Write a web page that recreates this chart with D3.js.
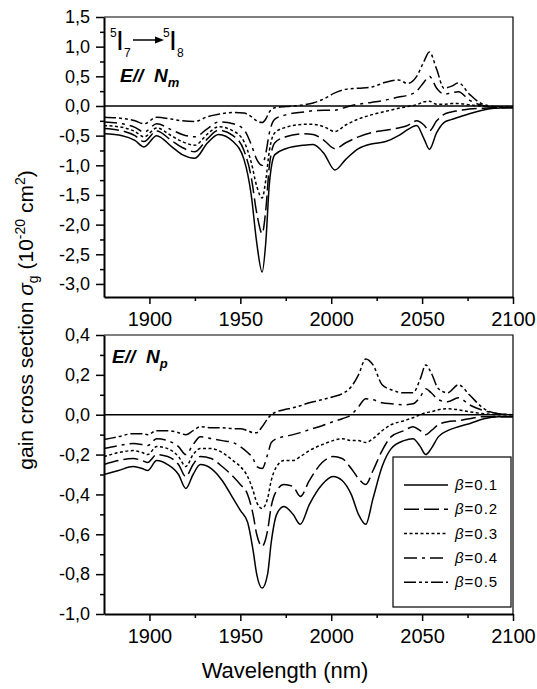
<!DOCTYPE html>
<html>
<head>
<meta charset="utf-8">
<title>Gain cross section</title>
<style>
body { margin: 0; background: #fff; }
text { font-family: Arial, "Liberation Sans", sans-serif; fill: #000; }
</style>
<script src="https://d3js.org/d3.v7.min.js"></script>
</head>
<body>
<div id="chart"></div>
<script>
// ******* Data *******
const betaValues = ["0.1", "0.2", "0.3", "0.4", "0.5"];

const xTicks = [1900, 1950, 2000, 2050, 2100];
const xMinorTicks = [1925, 1975, 2025, 2075];
const yTicksTop = [1.5, 1.0, 0.5, 0.0, -0.5, -1.0, -1.5, -2.0, -2.5, -3.0];
const yTicksBottom = [0.4, 0.2, 0.0, -0.2, -0.4, -0.6, -0.8, -1.0];

// top panel, E // Nm
const wavelengthTop = [1875, 1885, 1892, 1897, 1904, 1912, 1918, 1925, 1932, 1938,
  1946, 1952, 1956, 1959, 1962, 1964, 1966, 1969, 1975, 1985,
  1990, 1996, 2002, 2008, 2015, 2022, 2030, 2037, 2042, 2047,
  2051, 2054, 2058, 2062, 2066, 2070, 2076, 2082, 2090, 2100];
const gainTop01 = [-0.47, -0.50, -0.58, -0.69, -0.50, -0.68, -0.82, -0.88, -0.62, -0.48,
  -0.60, -0.90, -1.50, -2.30, -2.80, -2.30, -1.30, -0.82, -0.72, -0.66,
  -0.65, -0.80, -1.08, -0.90, -0.72, -0.64, -0.60, -0.50, -0.40, -0.33,
  -0.55, -0.73, -0.45, -0.28, -0.23, -0.19, -0.13, -0.08, -0.04, -0.03];
const gainTop02 = [-0.38, -0.42, -0.50, -0.60, -0.42, -0.58, -0.70, -0.77, -0.55, -0.41,
  -0.50, -0.75, -1.20, -1.80, -2.15, -1.75, -1.00, -0.62, -0.52, -0.47,
  -0.48, -0.58, -0.72, -0.62, -0.52, -0.45, -0.41, -0.37, -0.33, -0.25,
  -0.32, -0.42, -0.25, -0.14, -0.10, -0.08, -0.05, -0.04, -0.03, -0.03];
const gainTop03 = [-0.33, -0.36, -0.43, -0.52, -0.37, -0.50, -0.60, -0.66, -0.47, -0.35,
  -0.42, -0.60, -0.95, -1.35, -1.55, -1.25, -0.75, -0.45, -0.36, -0.31,
  -0.31, -0.35, -0.43, -0.32, -0.22, -0.15, -0.09, -0.04, -0.01, 0.02,
  0.07, 0.08, 0.03, 0.03, 0.04, 0.04, 0.02, 0.00, -0.02, -0.02];
const gainTop04 = [-0.27, -0.30, -0.36, -0.44, -0.30, -0.40, -0.48, -0.52, -0.38, -0.27,
  -0.30, -0.40, -0.65, -0.90, -1.00, -0.80, -0.45, -0.22, -0.15, -0.10,
  -0.08, -0.07, -0.07, -0.02, 0.03, 0.06, 0.10, 0.15, 0.18, 0.25,
  0.40, 0.50, 0.30, 0.20, 0.22, 0.24, 0.10, 0.02, -0.02, -0.02];
const gainTop05 = [-0.19, -0.21, -0.25, -0.30, -0.19, -0.22, -0.25, -0.26, -0.18, -0.14,
  -0.11, -0.12, -0.18, -0.25, -0.28, -0.22, -0.10, -0.03, -0.01, 0.02,
  0.05, 0.12, 0.22, 0.28, 0.30, 0.32, 0.40, 0.44, 0.38, 0.50,
  0.75, 0.91, 0.62, 0.30, 0.33, 0.39, 0.20, 0.05, -0.01, -0.02];

// bottom panel, E // Np
const wavelengthBottom = [1875, 1883, 1891, 1896, 1899, 1904, 1910, 1916, 1920, 1924,
  1928, 1934, 1940, 1946, 1950, 1954, 1957, 1959, 1962, 1965,
  1967, 1970, 1974, 1979, 1983, 1988, 1995, 2001, 2006, 2011,
  2015, 2019, 2023, 2028, 2033, 2040, 2045, 2049, 2052, 2055,
  2059, 2064, 2070, 2076, 2084, 2092, 2100];
const gainBot01 = [-0.30, -0.28, -0.26, -0.27, -0.28, -0.23, -0.25, -0.30, -0.37, -0.30,
  -0.25, -0.27, -0.33, -0.42, -0.48, -0.54, -0.68, -0.80, -0.87, -0.80,
  -0.64, -0.50, -0.46, -0.50, -0.55, -0.45, -0.35, -0.31, -0.33, -0.40,
  -0.50, -0.55, -0.42, -0.26, -0.17, -0.13, -0.12, -0.16, -0.20, -0.17,
  -0.11, -0.08, -0.06, -0.045, -0.02, -0.01, -0.01];
const gainBot02 = [-0.25, -0.23, -0.22, -0.23, -0.24, -0.20, -0.21, -0.25, -0.31, -0.25,
  -0.21, -0.22, -0.26, -0.31, -0.35, -0.40, -0.50, -0.60, -0.66, -0.58,
  -0.46, -0.38, -0.35, -0.36, -0.41, -0.33, -0.24, -0.21, -0.22, -0.27,
  -0.32, -0.35, -0.28, -0.18, -0.11, -0.08, -0.06, -0.08, -0.10, -0.08,
  -0.05, -0.035, -0.03, -0.02, -0.01, -0.01, -0.01];
const gainBot03 = [-0.21, -0.19, -0.18, -0.19, -0.20, -0.16, -0.17, -0.21, -0.26, -0.20,
  -0.17, -0.17, -0.19, -0.23, -0.26, -0.31, -0.38, -0.44, -0.47, -0.42,
  -0.33, -0.26, -0.23, -0.23, -0.21, -0.18, -0.15, -0.13, -0.12, -0.13,
  -0.13, -0.14, -0.12, -0.08, -0.05, -0.03, -0.015, 0.00, 0.01, 0.015,
  0.025, 0.03, 0.025, 0.015, 0.005, 0.00, 0.00];
const gainBot04 = [-0.17, -0.155, -0.145, -0.15, -0.155, -0.12, -0.13, -0.16, -0.20, -0.15,
  -0.11, -0.12, -0.13, -0.14, -0.16, -0.19, -0.22, -0.26, -0.27, -0.20,
  -0.14, -0.12, -0.11, -0.10, -0.09, -0.075, -0.055, -0.035, -0.02, 0.00,
  0.04, 0.08, 0.075, 0.06, 0.055, 0.05, 0.055, 0.09, 0.13, 0.11,
  0.075, 0.065, 0.085, 0.05, 0.02, 0.005, 0.00];
const gainBot05 = [-0.125, -0.11, -0.095, -0.095, -0.10, -0.08, -0.08, -0.09, -0.10, -0.08,
  -0.06, -0.065, -0.065, -0.07, -0.07, -0.08, -0.09, -0.09, -0.06, -0.02,
  0.00, 0.015, 0.025, 0.035, 0.045, 0.06, 0.075, 0.09, 0.105, 0.14,
  0.20, 0.28, 0.25, 0.15, 0.125, 0.11, 0.11, 0.18, 0.25, 0.21,
  0.13, 0.11, 0.15, 0.10, 0.03, 0.005, 0.00];

// ******* Layout *******
const width = 537, height = 689;
const plotLeft = 104, plotRight = 513;
const dashes = ["none", "15,5", "3,2.5", "13,5,3,5", "12,3,3,3,3,3"];

const svg = d3.select("#chart").append("svg")
    .attr("width", width)
    .attr("height", height);

const x = d3.scaleLinear().domain([1875, 2100]).range([plotLeft, plotRight]);

const fmt = d => (d < -1e-9 ? "-" : "") + Math.abs(d).toFixed(1).replace(".", ",");

function drawPanel(id, y0, y1, yDomain, yTicks, yMinorStep, wl, series) {
  const y = d3.scaleLinear().domain(yDomain).range([y1, y0]);
  const g = svg.append("g");

  g.append("clipPath").attr("id", id)
    .append("rect")
    .attr("x", plotLeft).attr("y", y0)
    .attr("width", plotRight - plotLeft).attr("height", y1 - y0);

  const line = d3.line()
    .x(d => x(d[0]))
    .y(d => y(d[1]))
    .curve(d3.curveMonotoneX);

  g.append("g").attr("clip-path", `url(#${id})`)
    .selectAll("path")
    .data(series)
    .enter()
    .append("path")
    .attr("d", s => line(wl.map((w, i) => [w, s[i]])))
    .attr("fill", "none")
    .attr("stroke", "#000")
    .attr("stroke-width", 1.5)
    .attr("stroke-dasharray", (s, i) => dashes[i]);

  // zero line
  g.append("line")
    .attr("x1", plotLeft).attr("x2", plotRight)
    .attr("y1", y(0)).attr("y2", y(0))
    .attr("stroke", "#000").attr("stroke-width", 1.5);

  // top and right frame
  g.append("path")
    .attr("d", `M${plotLeft},${y0}H${plotRight}V${y1}`)
    .attr("fill", "none").attr("stroke", "#000").attr("stroke-width", 1.2);

  // minor ticks
  const yMinor = d3.range(yDomain[1], yDomain[0], -yMinorStep)
    .filter(v => !yTicks.some(t => Math.abs(t - v) < 1e-6));
  g.append("g")
    .attr("transform", `translate(${plotLeft},0)`)
    .call(d3.axisLeft(y).tickValues(yMinor).tickSize(4).tickFormat(""))
    .call(a => a.select(".domain").remove())
    .selectAll("line").attr("stroke-width", 1.5);
  g.append("g")
    .attr("transform", `translate(0,${y1})`)
    .call(d3.axisBottom(x).tickValues(xMinorTicks).tickSize(4).tickFormat(""))
    .call(a => a.select(".domain").remove())
    .selectAll("line").attr("stroke-width", 1.5);

  // major axes
  const ya = g.append("g")
    .attr("transform", `translate(${plotLeft},0)`)
    .call(d3.axisLeft(y).tickValues(yTicks).tickSize(8).tickSizeOuter(0)
      .tickPadding(6).tickFormat(fmt));
  ya.select(".domain").attr("stroke-width", 2);
  ya.selectAll("line").attr("stroke-width", 1.5);
  ya.selectAll("text").attr("font-size", 18).attr("font-family", null);

  const xa = g.append("g")
    .attr("transform", `translate(0,${y1})`)
    .call(d3.axisBottom(x).tickValues(xTicks).tickSize(7).tickSizeOuter(0)
      .tickFormat(d3.format("d")));
  xa.select(".domain").attr("stroke-width", 2);
  xa.selectAll("line").attr("stroke-width", 1.5);
  xa.selectAll("text").attr("font-size", 20).attr("font-family", null)
    .attr("y", 29).attr("dy", null);

  return g;
}

const topPanel = drawPanel("clipTop", 17, 297, [-3.22, 1.5], yTicksTop, 0.25, wavelengthTop,
  [gainTop01, gainTop02, gainTop03, gainTop04, gainTop05]);
const botPanel = drawPanel("clipBot", 335, 614, [-1.0, 0.4], yTicksBottom, 0.1, wavelengthBottom,
  [gainBot01, gainBot02, gainBot03, gainBot04, gainBot05]);

// ******* Annotations *******
// 5I7 -> 5I8
topPanel.append("text").attr("x", 110).attr("y", 37).attr("font-size", 12).text("5");
topPanel.append("text").attr("x", 116).attr("y", 50).attr("font-size", 28).text("I");
topPanel.append("text").attr("x", 124).attr("y", 57).attr("font-size", 12).text("7");
topPanel.append("line").attr("x1", 133).attr("x2", 156).attr("y1", 40).attr("y2", 40)
  .attr("stroke", "#000").attr("stroke-width", 1.5);
topPanel.append("path").attr("d", "M155,36.5L164,40L155,43.5Z").attr("fill", "#000");
topPanel.append("text").attr("x", 163).attr("y", 37).attr("font-size", 12).text("5");
topPanel.append("text").attr("x", 169).attr("y", 50).attr("font-size", 28).text("I");
topPanel.append("text").attr("x", 177).attr("y", 57).attr("font-size", 12).text("8");

function polLabel(g, x0, yb, sub) {
  const t = g.append("text").attr("x", x0).attr("y", yb)
    .attr("font-size", 19).attr("font-weight", "bold").attr("font-style", "italic");
  t.append("tspan").text("E//");
  t.append("tspan").attr("x", x0 + 34).text("N");
  t.append("tspan").attr("font-size", 13).attr("dy", 5).text(sub);
}
polLabel(topPanel, 120, 82, "m");
polLabel(botPanel, 112, 363, "p");

// ******* Axis titles *******
svg.append("text")
    .attr("x", 285).attr("y", 678)
    .attr("text-anchor", "middle")
    .attr("font-size", 22)
    .text("Wavelength (nm)");

const yt = svg.append("text")
    .attr("transform", "translate(33,320) rotate(-90)")
    .attr("text-anchor", "middle")
    .attr("font-size", 21);
yt.append("tspan").text("gain cross section ");
yt.append("tspan").attr("font-style", "italic").text("σ");
yt.append("tspan").attr("font-size", 14).attr("dy", 5).text("g");
yt.append("tspan").attr("dy", -5).text(" (10");
yt.append("tspan").attr("font-size", 14).attr("dy", -8).text("-20");
yt.append("tspan").attr("dy", 8).text(" cm");
yt.append("tspan").attr("font-size", 14).attr("dy", -8).text("2");
yt.append("tspan").attr("dy", 8).text(")");

// ******* Legend *******
const legend = svg.append("g");
legend.append("rect")
    .attr("x", 393).attr("y", 457).attr("width", 118).attr("height", 150)
    .attr("fill", "#fff").attr("stroke", "#000").attr("stroke-width", 1.2);

const rows = legend.selectAll("g.row")
    .data(betaValues)
    .enter().append("g")
    .attr("class", "row")
    .attr("transform", (d, i) => `translate(0,${485 + i * 24.3})`);
rows.append("line")
    .attr("x1", 404).attr("x2", 448)
    .attr("stroke", "#000").attr("stroke-width", 1.5)
    .attr("stroke-dasharray", (d, i) => dashes[i]);
const lt = rows.append("text")
    .attr("x", 455).attr("y", 5)
    .attr("font-size", 15)
    .attr("letter-spacing", 1);
lt.append("tspan").attr("font-style", "italic").text("β");
lt.append("tspan").text(d => "=" + d);
</script>
</body>
</html>
